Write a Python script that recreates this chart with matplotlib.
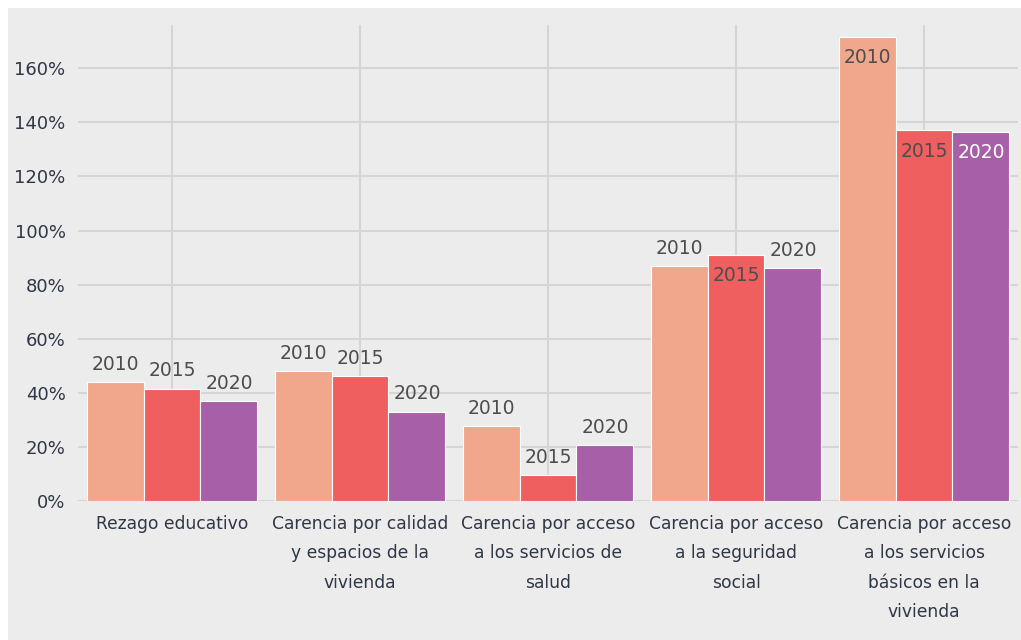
import matplotlib.pyplot as plt
import numpy as np
from matplotlib.patches import Rectangle
from matplotlib.ticker import FuncFormatter

plt.rcParams['font.family'] = ['DejaVu Sans']

categorias = ['Rezago educativo',
              'Carencia por calidad\ny espacios de la\nvivienda',
              'Carencia por acceso\na los servicios de\nsalud',
              'Carencia por acceso\na la seguridad\nsocial',
              'Carencia por acceso\na los servicios\nbásicos en la\nvivienda']
anios = ['2010', '2015', '2020']
v2010 = [44.0, 48.0, 27.7, 86.8, 171.5]
v2015 = [41.5, 46.2, 9.6, 91.0, 137.0]
v2020 = [37.0, 33.0, 20.7, 86.2, 136.5]
# etiqueta dentro de la barra (True) o encima (False)
dentro2010 = [False, False, False, False, True]
dentro2015 = [False, False, False, True, True]
dentro2020 = [False, False, False, False, True]

colores = ['#f0a78c', '#ef5f5f', '#a75fa8']

fig = plt.figure(figsize=(10.21, 6.4), dpi=100)
fig.patch.set_facecolor('white')
fig.patches.append(Rectangle((8/1021, 0), 1, 632/640, transform=fig.transFigure,
                             facecolor='#ececec', edgecolor='none', zorder=-10))
ax = fig.add_axes([78/1021, 1-501/640, 940/1021, 476/640])
ax.set_facecolor('none')

x = np.arange(len(categorias))
w = 0.303
series = [v2010, v2015, v2020]
dentros = [dentro2010, dentro2015, dentro2020]
for i, (vals, din) in enumerate(zip(series, dentros)):
    pos = x + (i - 1) * w
    ax.bar(pos, vals, w, color=colores[i], edgecolor='white', linewidth=0.8, zorder=3)
    for px, v, d in zip(pos, vals, din):
        if d:
            c = 'white' if i == 2 else '#4d4d4d'
            ax.annotate(anios[i], (px, v), xytext=(0, -8), textcoords='offset points',
                        ha='center', va='top', fontsize=13.5, color=c, zorder=4)
        else:
            ax.annotate(anios[i], (px, v), xytext=(0, 6), textcoords='offset points',
                        ha='center', va='bottom', fontsize=13.5, color='#4d4d4d', zorder=4)

ax.set_xlim(-0.5, len(categorias) - 0.5)
ax.set_ylim(0, 176)
ax.set_yticks(np.arange(0, 161, 20))
ax.yaxis.set_major_formatter(FuncFormatter(lambda v, p: '{:.0f}%'.format(v)))
ax.set_xticks(x)
ax.set_xticklabels(categorias, fontsize=12.3, color='#2f3645', linespacing=1.82)
ax.tick_params(axis='y', labelsize=13, labelcolor='#2f3645', length=0, pad=9)
ax.tick_params(axis='x', length=0, pad=10)
ax.grid(True, color='#d5d5d5', linewidth=1.5, zorder=0)
ax.set_axisbelow(True)
for s in ax.spines.values():
    s.set_visible(False)

plt.savefig('out.png', dpi=100)
